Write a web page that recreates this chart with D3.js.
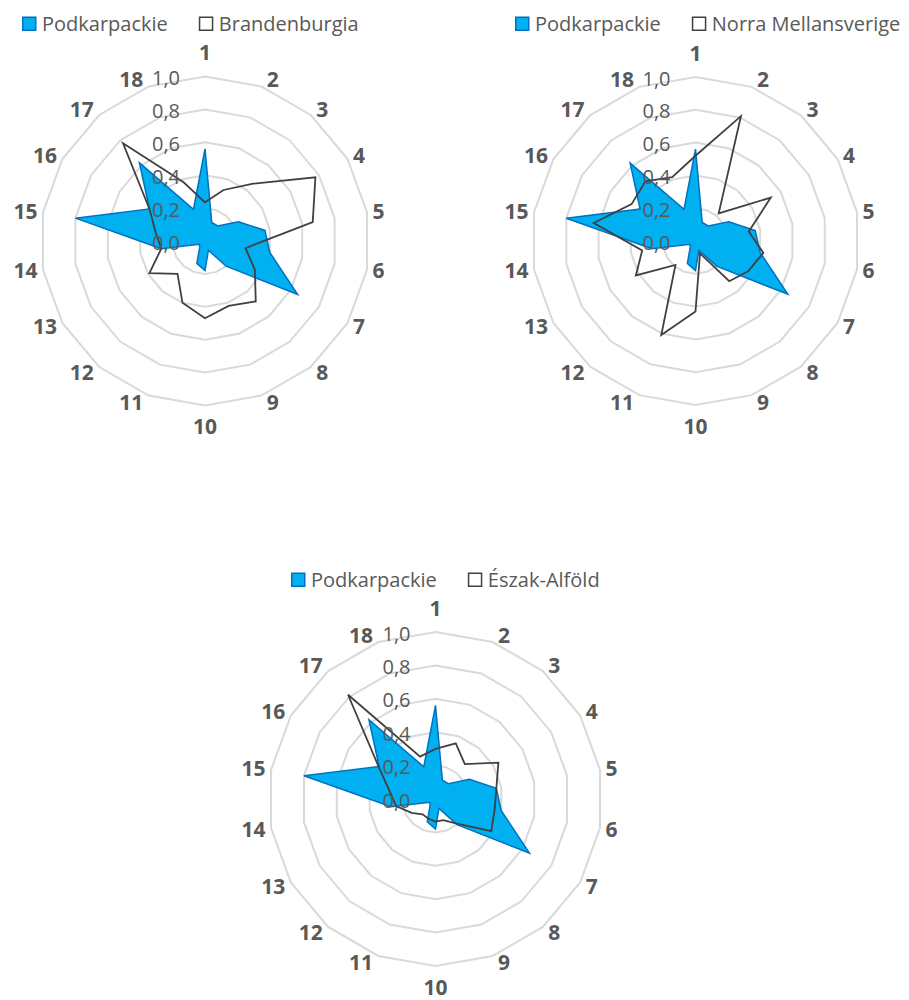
<!DOCTYPE html>
<html>
<head>
<meta charset="utf-8">
<script src="https://cdn.jsdelivr.net/npm/d3@7"></script>
<style>
  html, body { margin: 0; padding: 0; background: #fff; }
  svg { display: block; }
  text { font-family: "Open Sans", "Noto Sans", sans-serif; }
</style>
</head>
<body>
<svg id="chart" width="909" height="1000"></svg>
<script>
// ---------- data ----------
const axisLabels = ["1","2","3","4","5","6","7","8","9","10","11","12","13","14","15","16","17","18"];
const tickValues = [0, 0.2, 0.4, 0.6, 0.8, 1.0];
const tickLabels = ["0,0", "0,2", "0,4", "0,6", "0,8", "1,0"];

const baseName = "Podkarpackie";
const podkarpackie = [0.56, 0.12, 0.12, 0.235, 0.37, 0.40, 0.65, 0.20, 0.06, 0.18, 0.145, 0.05, 0.04, 0.27, 0.80, 0.39, 0.62, 0.205];

const brandenburgiaName = "Brandenburgia";
const brandenburgia = [0.235, 0.33, 0.455, 0.775, 0.665, 0.25, 0.35, 0.48, 0.42, 0.47, 0.40, 0.26, 0.39, 0.27, 0.305, 0.39, 0.775, 0.38];

const norraName = "Norra Mellansverige";
const norraMellansverige = [0.52, 0.81, 0.22, 0.53, 0.33, 0.42, 0.37, 0.32, 0.08, 0.43, 0.61, 0.19, 0.42, 0.33, 0.63, 0.45, 0.475, 0.415];

const eszakName = "Észak-Alföld";
const eszakAlfold = [0.30, 0.355, 0.273, 0.435, 0.37, 0.36, 0.385, 0.19, 0.135, 0.135, 0.125, 0.12, 0.165, 0.24, 0.28, 0.395, 0.815, 0.27];

// ---------- layout ----------
const charts = [
  { cx: 205,   cy: 241, R: 164.5, legendX: 22,  legendY: 16.5, other: brandenburgia, otherName: brandenburgiaName },
  { cx: 695.5, cy: 241, R: 164,   legendX: 515, legendY: 16.5, other: norraMellansverige, otherName: norraName },
  { cx: 435.5, cy: 799, R: 167,   legendX: 291, legendY: 572.5, other: eszakAlfold, otherName: eszakName }
];

const grey = "#595959";
const gridColor = "#d9d9d9";
const blueFill = "#00b0f0";
const blueStroke = "#0070c0";
const lineColor = "#404040";

const svg = d3.select("#chart");
const n = axisLabels.length;
const angle = d3.scalePoint().domain(axisLabels).range([0, 2 * Math.PI * (n - 1) / n]);

charts.forEach(c => {
  const g = svg.append("g").attr("transform", `translate(${c.cx},${c.cy})`);
  const r = d3.scaleLinear().domain([0, 1]).range([0, c.R]);

  const radial = d3.lineRadial()
    .angle((d, i) => angle(axisLabels[i]))
    .radius(d => r(d))
    .curve(d3.curveLinearClosed);

  // grid rings
  tickValues.filter(v => v > 0).forEach(v => {
    g.append("path")
      .attr("d", radial(axisLabels.map(() => v)))
      .attr("fill", "none")
      .attr("stroke", gridColor)
      .attr("stroke-width", 2);
  });

  // Podkarpackie area
  g.append("path")
    .attr("d", radial(podkarpackie))
    .attr("fill", blueFill)
    .attr("stroke", blueStroke)
    .attr("stroke-width", 1.5)
    .attr("stroke-linejoin", "miter");

  // other region line
  g.append("path")
    .attr("d", radial(c.other))
    .attr("fill", "none")
    .attr("stroke", lineColor)
    .attr("stroke-width", 1.8)
    .attr("stroke-linejoin", "miter");

  // tick labels
  const tickSize = 20;
  tickValues.forEach((v, i) => {
    g.append("text")
      .attr("x", -25)
      .attr("y", -r(v) + 1.5 + 0.357 * tickSize)
      .attr("text-anchor", "end")
      .attr("font-size", tickSize)
      .attr("fill", grey)
      .text(tickLabels[i]);
  });

  // axis category labels
  const labSize = 21;
  const half = 0.357 * labSize;
  axisLabels.forEach(lab => {
    const a = angle(lab);
    const s = Math.sin(a), co = Math.cos(a);
    const vx = c.R * s, vy = -c.R * co;
    let x, y, anchor;
    if (Math.abs(s) < 1e-6) {
      anchor = "middle";
      x = vx;
      if (co > 0) { // top
        y = vy - 16.5 - half;
      } else {
        y = vy + 14 + half;
      }
    } else {
      anchor = s > 0 ? "start" : "end";
      x = vx + (s > 0 ? 5.5 : -5.5);
      y = vy - co * half;
    }
    g.append("text")
      .attr("x", x)
      .attr("y", y + half)
      .attr("text-anchor", anchor)
      .attr("font-size", labSize)
      .attr("font-weight", "bold")
      .attr("fill", grey)
      .text(lab);
  });

  // legend
  const lg = svg.append("g").attr("transform", `translate(${c.legendX},${c.legendY})`);
  lg.append("rect").attr("x", 0.75).attr("y", 0.75).attr("width", 13).attr("height", 13)
    .attr("fill", blueFill).attr("stroke", blueStroke).attr("stroke-width", 1.5);
  const t1 = lg.append("text").attr("x", 20).attr("y", 14).attr("font-size", 20).attr("fill", grey).text(baseName);
  const w1 = t1.node().getComputedTextLength();
  const x2 = 20 + w1 + 31;
  lg.append("rect").attr("x", x2 + 0.75).attr("y", 0.75).attr("width", 13).attr("height", 13)
    .attr("fill", "#fff").attr("stroke", lineColor).attr("stroke-width", 1.5);
  lg.append("text").attr("x", x2 + 20).attr("y", 14).attr("font-size", 20).attr("fill", grey).text(c.otherName);
});
</script>
</body>
</html>
